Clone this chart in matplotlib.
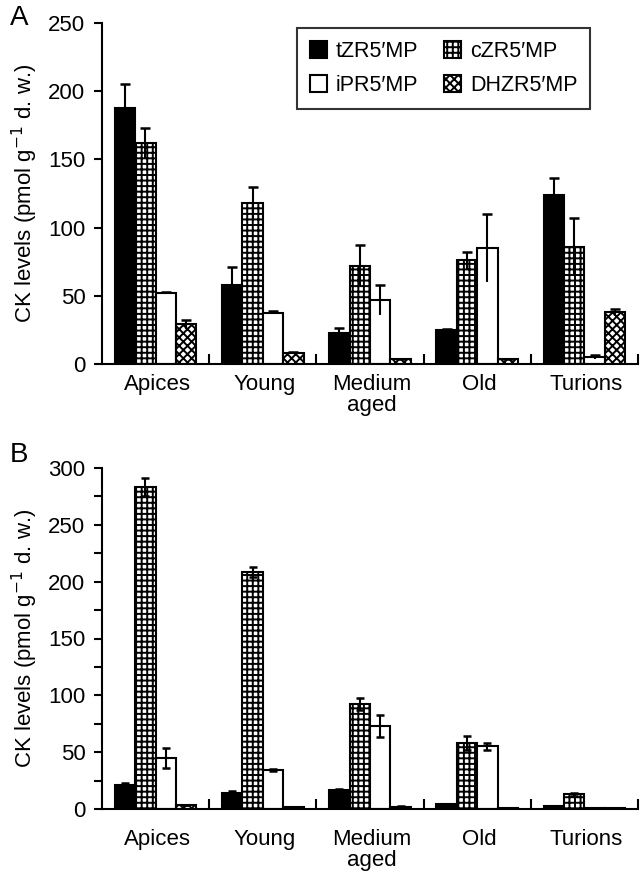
import numpy as np
import matplotlib.pyplot as plt

plt.rcParams['font.family'] = ['Liberation Sans', 'DejaVu Sans']
plt.rcParams['hatch.linewidth'] = 1.4

categories = ["Apices", "Young", "Medium\naged", "Old", "Turions"]
series = ["tZR5\u2032MP", "cZR5\u2032MP", "iPR5\u2032MP", "DHZR5\u2032MP"]

# panel A
a_tzr = [188, 58, 23, 25, 124]
a_czr = [162, 118, 72, 76, 86]
a_ipr = [52, 37.5, 47, 85, 5]
a_dhz = [29, 8, 3.5, 3.5, 38]
a_tzr_err = [17, 13, 3.5, 0.5, 12]
a_czr_err = [11, 12, 15, 6, 21]
a_ipr_err = [1, 1, 11, 25, 1.5]
a_dhz_err = [3, 0.5, 0.5, 0.3, 2.5]

# panel B
b_tzr = [21, 14, 16.5, 4, 2.5]
b_czr = [283.5, 208.5, 92.5, 58, 13]
b_ipr = [45, 34, 73, 55, 1]
b_dhz = [3.5, 1.5, 2, 1, 1]
b_tzr_err = [1.5, 1.5, 1, 0.3, 0.3]
b_czr_err = [8, 4.5, 5, 6, 1.5]
b_ipr_err = [8.5, 1, 9.5, 3, 0.2]
b_dhz_err = [0.3, 0.2, 0.2, 0.1, 0.1]

styles = [
    dict(color="black", hatch=None),
    dict(color="white", hatch="+++"),
    dict(color="white", hatch=None),
    dict(color="white", hatch="xxxx"),
]

fig = plt.figure(figsize=(6.42, 8.73), dpi=100)
axA = fig.add_axes([102 / 642, 1 - 364 / 873, 536 / 642, 341 / 873])
axB = fig.add_axes([102 / 642, 1 - 809 / 873, 536 / 642, 341 / 873])

x = np.arange(len(categories))
w = 0.19


def draw(ax, vals, errs, top_only):
    handles = []
    for i, (v, e, st) in enumerate(zip(vals, errs, styles)):
        xi = x + (i - 1.5) * w
        b = ax.bar(xi, v, w, color=st["color"], edgecolor="black",
                   linewidth=1.5, hatch=st["hatch"], zorder=2)
        handles.append(b)
        v = np.array(v)
        e = np.array(e)
        if top_only:
            ax.vlines(xi, v - e, v + e, color="black", lw=1.5, zorder=3)
            ax.plot(xi, v + e, ls="none", marker="_", ms=7, mew=1.8,
                    color="black", zorder=3)
        else:
            ax.errorbar(xi, v, yerr=e, fmt="none", ecolor="black",
                        elinewidth=1.5, capsize=3, capthick=1.8, zorder=3)
    return handles


hA = draw(axA, [a_tzr, a_czr, a_ipr, a_dhz],
          [a_tzr_err, a_czr_err, a_ipr_err, a_dhz_err], True)
draw(axB, [b_tzr, b_czr, b_ipr, b_dhz],
     [b_tzr_err, b_czr_err, b_ipr_err, b_dhz_err], False)

for ax, ymax, pad in [(axA, 250, 10), (axB, 300, 20)]:
    ax.set_xlim(-0.5, 4.5)
    ax.set_ylim(0, ymax)
    for s in ["top", "right"]:
        ax.spines[s].set_visible(False)
    ax.spines["left"].set_linewidth(1.5)
    ax.spines["bottom"].set_linewidth(1.5)
    ax.set_xticks(x + 0.5)
    ax.set_xticklabels([])
    ax.tick_params(axis="x", direction="in", length=7, width=1.5)
    ax.tick_params(axis="y", direction="out", length=6, width=1.5,
                   labelsize=16, pad=6)
    for xi, lab in zip(x, categories):
        ax.annotate(lab, (xi, 0), xycoords=("data", "axes fraction"),
                    xytext=(2, -pad), textcoords="offset pixels",
                    ha="center", va="top", fontsize=16, linespacing=1.0)
    ax.set_ylabel("CK levels (pmol g$^{-1}$ d. w.)", fontsize=16, labelpad=6)

axA.set_yticks(np.arange(0, 251, 50))
axB.set_yticks(np.arange(0, 301, 25))
axB.set_yticklabels([str(v) if v % 50 == 0 else "" for v in range(0, 301, 25)])

fig.text(10 / 642, 1 - 18 / 873, "A", fontsize=20, va="center")
fig.text(10 / 642, 1 - 455 / 873, "B", fontsize=20, va="center")

leg = axA.legend([hA[0], hA[2], hA[1], hA[3]],
                 [series[0], series[2], series[1], series[3]],
                 ncol=2, loc="upper left",
                 bbox_to_anchor=(297 / 642, 1 - 28 / 873),
                 bbox_transform=fig.transFigure, fontsize=15.5,
                 borderaxespad=0, frameon=True, fancybox=False,
                 edgecolor="black", handlelength=0.8, handleheight=0.8,
                 handletextpad=0.4, columnspacing=1.2, borderpad=0.6,
                 labelspacing=0.6)
leg.get_frame().set_linewidth(1.5)

fig.savefig("out.png", dpi=100)
